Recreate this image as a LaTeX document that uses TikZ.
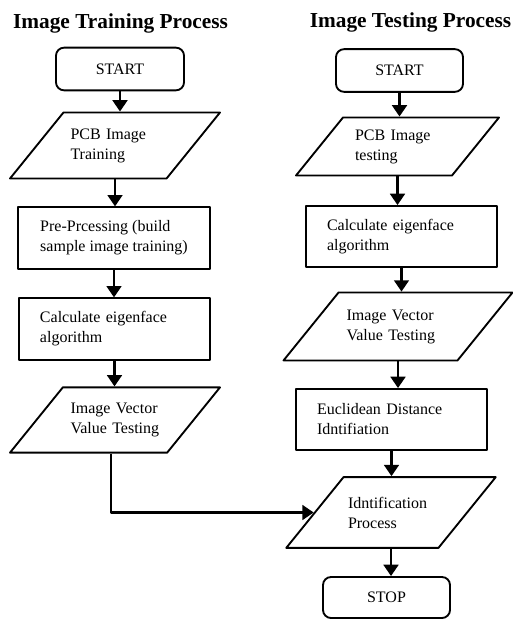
\documentclass[tikz,border=0pt]{standalone}
\usepackage{fontspec}
\setmainfont{Liberation Serif}
\usetikzlibrary{arrows.meta,shapes.geometric}
\begin{document}
\begin{tikzpicture}[>={Triangle[width=11pt,length=8.5pt]},line join=round,x=0.75pt,y=-0.75pt,
 font=\fontsize{12}{15}\selectfont,
 head/.style={font=\fontsize{16}{19}\selectfont\bfseries},
 term/.style={draw,line width=1.4pt,rounded corners=6pt,minimum height=32pt},
 proc/.style={draw,line width=1.4pt,minimum height=46pt,align=left},
 data/.style={trapezium,trapezium left angle=51,trapezium right angle=129,trapezium stretches body,draw,line width=1.4pt,align=left},
 flow/.style={->,line width=2pt}]
 	\useasboundingbox (0,0) rectangle (513,619);
 	\node[head] (title1) at (120.5,23) {Image Training Process};
 	\node[head] (title2) at (410.5,22) {Image Testing Process};
 	\node[term,minimum width=96pt] (start1) at (120,69) {START};
 	\node[data,minimum width=157.5pt,inner ysep=12pt,text width=66.75pt] (pcb1) at (115,145.5) {PCB Image\\Training};
 	\node[proc,minimum width=144pt] (pre1) at (114,238) {Pre-Prcessing (build\\sample image training)};
 	\node[proc,minimum width=143.25pt,text width=111.75pt] (calc1) at (114.5,329) {Calculate eigenface\\algorithm};
 	\node[data,minimum width=157.5pt,inner ysep=11.75pt,text width=66.75pt] (iv1) at (115,420) {Image Vector\\Value Testing};
 	\node[term,minimum width=95.25pt] (start2) at (399.5,70.5) {START};
 	\node[data,minimum width=152.25pt,inner ysep=9pt,text width=63.75pt] (pcb2) at (397.5,146.5) {PCB Image\\testing};
 	\node[proc,minimum width=143.25pt,minimum height=45.75pt,text width=111.75pt] (calc2) at (401.5,236.5) {Calculate eigenface\\algorithm};
 	\node[data,minimum width=171.75pt,inner ysep=12.75pt,text width=77.25pt] (iv2) at (398,326.5) {Image Vector\\Value Testing};
 	\node[proc,minimum width=143.25pt,minimum height=45.75pt,text width=111.75pt] (euc2) at (391.5,419.5) {Euclidean Distance\\Idntifiation};
 	\node[data,minimum width=154.5pt,inner ysep=14.75pt,text width=64.5pt] (idnt2) at (391,512.5) {Idntification\\Process};
 	\node[term,minimum width=95.25pt,minimum height=30.75pt] (stop2) at (386.5,597.5) {STOP};
 	\draw[flow] (start1.south) -- (start1.south |- pcb1.north);
 	\draw[flow] (pcb1.south) -- (pcb1.south |- pre1.north);
 	\draw[flow] (pre1.south) -- (pre1.south |- calc1.north);
 	\draw[flow] (calc1.south) -- (calc1.south |- iv1.north);
 	\draw[flow] (start2.south) -- (start2.south |- pcb2.north);
 	\draw[flow] (pcb2.south) -- (pcb2.south |- calc2.north);
 	\draw[flow] (calc2.south) -- (calc2.south |- iv2.north);
 	\draw[flow] (iv2.south) -- (iv2.south |- euc2.north);
 	\draw[flow] (euc2.south) -- (euc2.south |- idnt2.north);
 	\draw[flow] (idnt2.south) -- (idnt2.south |- stop2.north);
 	\draw[flow] ([xshift=-3pt]iv1.south) |- (idnt2.west);
\end{tikzpicture}
\end{document}
